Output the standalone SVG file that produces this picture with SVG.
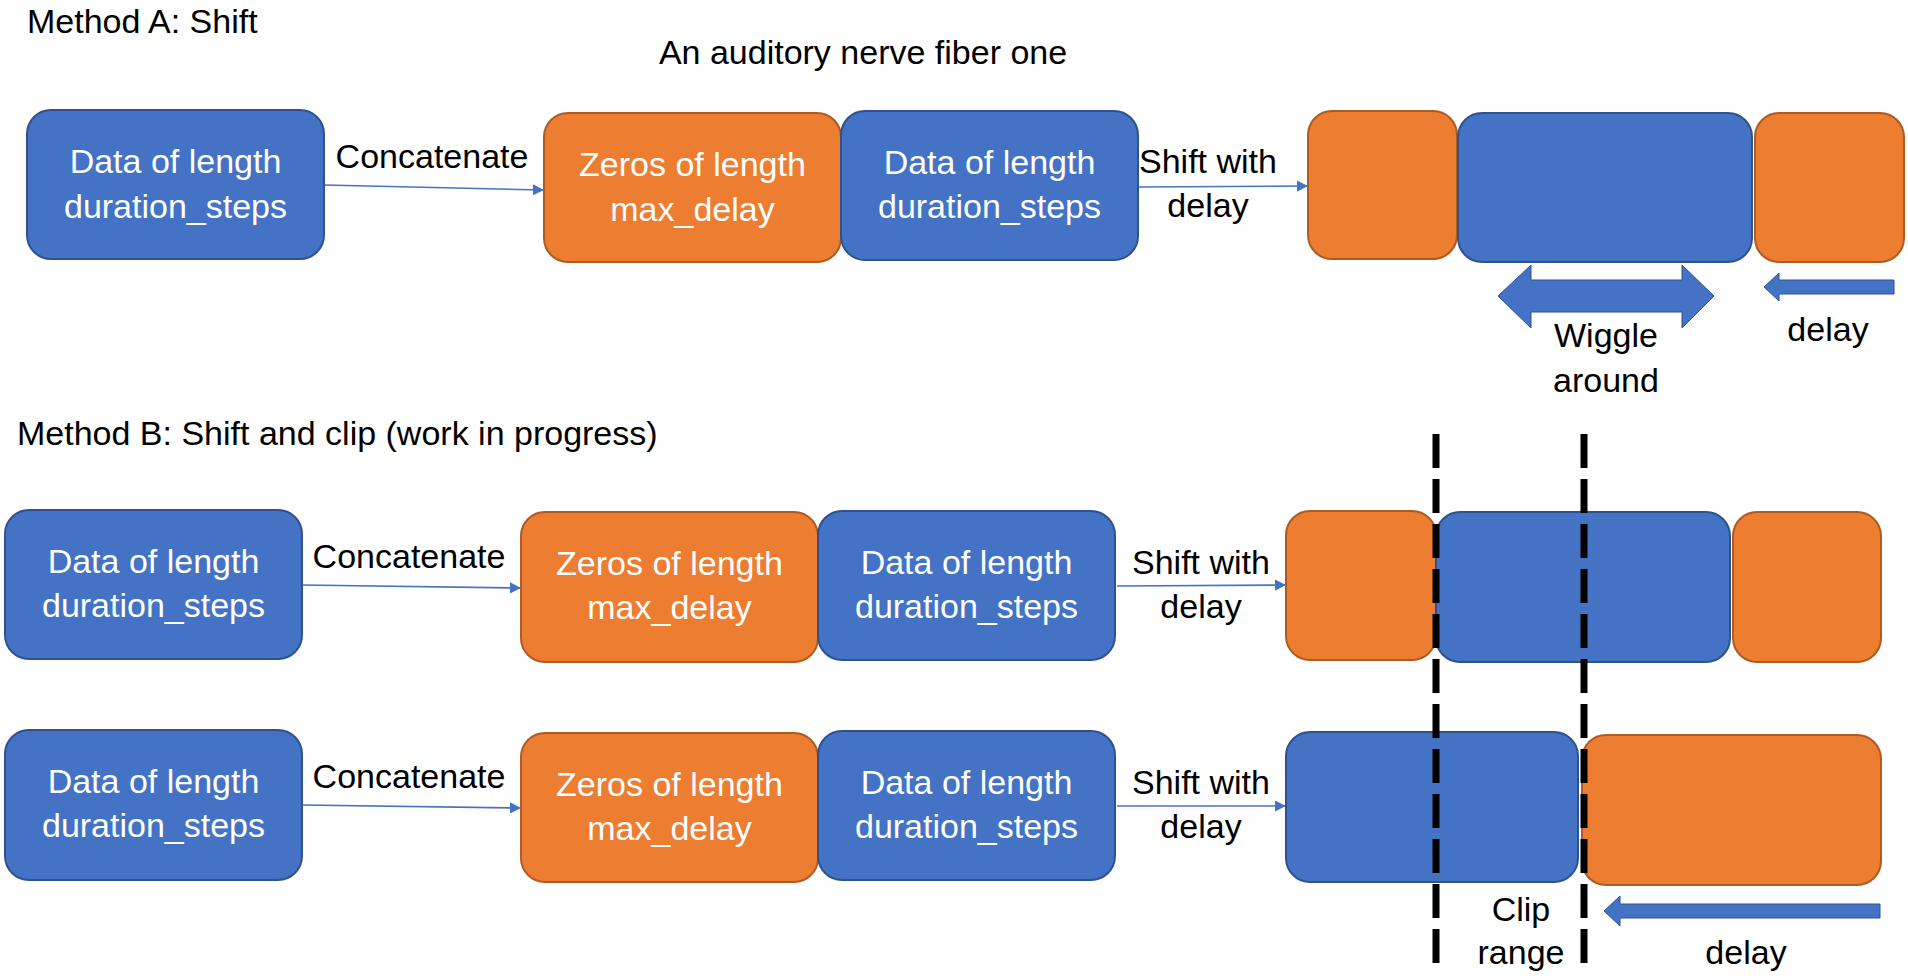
<svg xmlns="http://www.w3.org/2000/svg" width="1908" height="978" viewBox="0 0 1908 978">
<defs>
<style>
.t{font-family:"Liberation Sans",Arial,sans-serif;font-size:34px;fill:#000}
.w{font-family:"Liberation Sans",Arial,sans-serif;font-size:34px;fill:#fff;text-anchor:middle}
.c{text-anchor:middle}
.b{fill:#4472C4;stroke:#2F528F;stroke-width:2}
.o{fill:#ED7D31;stroke:#AE5A21;stroke-width:2}
.ln{stroke:#4472C4;stroke-width:1.6;fill:none;marker-end:url(#ah)}
.fa{fill:#4472C4;stroke:#2F528F;stroke-width:1}
.dash{stroke:#000;stroke-width:7;stroke-dasharray:34 11;fill:none}
</style>
<marker id="ah" viewBox="0 0 10 10" refX="9" refY="5" markerWidth="7" markerHeight="7" markerUnits="strokeWidth" orient="auto">
<path d="M0,0 L10,5 L0,10 z" fill="#4472C4"/>
</marker>
</defs>
<rect width="1908" height="978" fill="#fff"/>

<g id="titles">
<text class="t" x="27" y="33">Method A: Shift</text>
<text class="t c" x="863" y="64">An auditory nerve fiber one</text>
<text class="t" x="17" y="445">Method B: Shift and clip (work in progress)</text>
</g>

<g id="connectors">
<line class="ln" x1="324" y1="185" x2="543" y2="190"/>
<line class="ln" x1="1138" y1="187" x2="1307" y2="186"/>
<line class="ln" x1="302" y1="585" x2="520" y2="588"/>
<line class="ln" x1="1117" y1="586" x2="1285" y2="585"/>
<line class="ln" x1="302" y1="805" x2="520" y2="808"/>
<line class="ln" x1="1117" y1="806" x2="1285" y2="806"/>
<text class="t c" x="432" y="168">Concatenate</text>
<text class="t c" x="1208" y="173">Shift with</text>
<text class="t c" x="1208" y="217">delay</text>
<text class="t c" x="409" y="568">Concatenate</text>
<text class="t c" x="1201" y="574">Shift with</text>
<text class="t c" x="1201" y="618">delay</text>
<text class="t c" x="409" y="788">Concatenate</text>
<text class="t c" x="1201" y="794">Shift with</text>
<text class="t c" x="1201" y="838">delay</text>
</g>

<g id="nodeA1"><rect class="b" x="27" y="110" width="297" height="149" rx="24"/><text class="w" x="175.5" y="173">Data of length</text><text class="w" x="175.5" y="218">duration_steps</text></g>
<g id="nodeA2"><rect class="o" x="544" y="113" width="297" height="149" rx="24"/><text class="w" x="692.5" y="176">Zeros of length</text><text class="w" x="692.5" y="221">max_delay</text></g>
<g id="nodeA3"><rect class="b" x="841" y="111" width="297" height="149" rx="24"/><text class="w" x="989.5" y="174">Data of length</text><text class="w" x="989.5" y="218">duration_steps</text></g>
<g id="nodeA4"><rect class="o" x="1308" y="111" width="149" height="148" rx="24"/></g>
<g id="nodeA5"><rect class="b" x="1458" y="113" width="294" height="149" rx="24"/></g>
<g id="nodeA6"><rect class="o" x="1755" y="113" width="149" height="149" rx="24"/></g>

<g id="wiggle">
<polygon class="fa" points="1498,296 1531,265 1531,280 1682,280 1682,265 1714,296 1682,328 1682,312 1531,312 1531,328"/>
<text class="t c" x="1606" y="347">Wiggle</text>
<text class="t c" x="1606" y="392">around</text>
</g>
<g id="delayA">
<polygon class="fa" points="1764,287 1779,273 1779,280 1894,280 1894,294 1779,294 1779,301"/>
<text class="t c" x="1828" y="341">delay</text>
</g>

<g id="nodeB1"><rect class="b" x="5" y="510" width="297" height="149" rx="24"/><text class="w" x="153.5" y="573">Data of length</text><text class="w" x="153.5" y="617">duration_steps</text></g>
<g id="nodeB2"><rect class="o" x="521" y="512" width="297" height="150" rx="24"/><text class="w" x="669.5" y="575">Zeros of length</text><text class="w" x="669.5" y="619">max_delay</text></g>
<g id="nodeB3"><rect class="b" x="818" y="511" width="297" height="149" rx="24"/><text class="w" x="966.5" y="574">Data of length</text><text class="w" x="966.5" y="618">duration_steps</text></g>
<g id="nodeB4"><rect class="o" x="1286" y="511" width="150" height="149" rx="24"/></g>
<g id="nodeB5"><rect class="b" x="1436" y="512" width="294" height="150" rx="24"/></g>
<g id="nodeB6"><rect class="o" x="1733" y="512" width="148" height="150" rx="24"/></g>

<g id="nodeC1"><rect class="b" x="5" y="730" width="297" height="150" rx="24"/><text class="w" x="153.5" y="793">Data of length</text><text class="w" x="153.5" y="837">duration_steps</text></g>
<g id="nodeC2"><rect class="o" x="521" y="733" width="297" height="149" rx="24"/><text class="w" x="669.5" y="796">Zeros of length</text><text class="w" x="669.5" y="840">max_delay</text></g>
<g id="nodeC3"><rect class="b" x="818" y="731" width="297" height="149" rx="24"/><text class="w" x="966.5" y="794">Data of length</text><text class="w" x="966.5" y="838">duration_steps</text></g>
<g id="nodeC4"><rect class="b" x="1286" y="732" width="292" height="150" rx="24"/></g>
<g id="nodeC5"><rect class="o" x="1582" y="735" width="299" height="150" rx="24"/></g>

<g id="clip">
<line class="dash" x1="1436" y1="434" x2="1436" y2="966"/>
<line class="dash" x1="1584" y1="434" x2="1584" y2="966"/>
<text class="t c" x="1521" y="921">Clip</text>
<text class="t c" x="1521" y="964">range</text>
</g>
<g id="delayB">
<polygon class="fa" points="1604,911 1620,896 1620,904 1880,904 1880,918 1620,918 1620,926"/>
<text class="t c" x="1746" y="964">delay</text>
</g>
</svg>
